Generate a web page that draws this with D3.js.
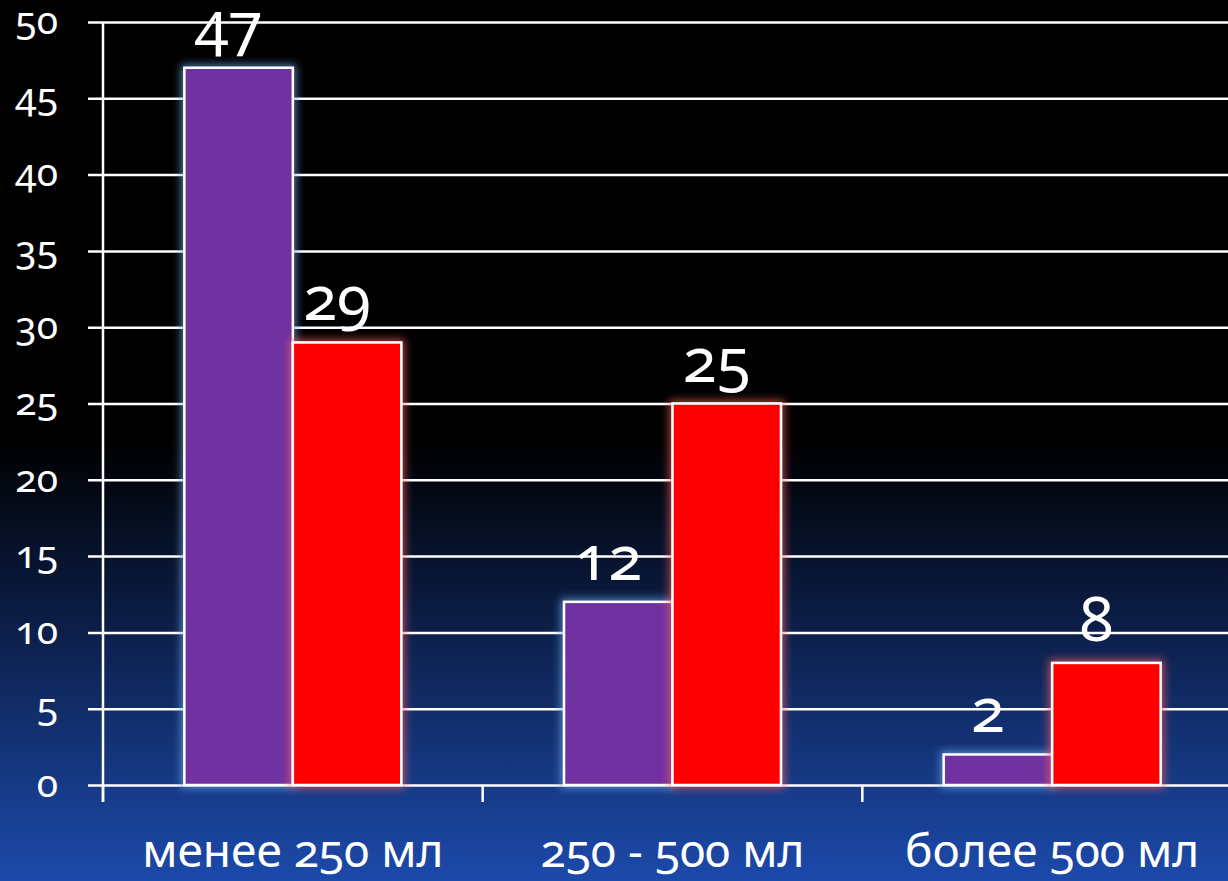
<!DOCTYPE html>
<html>
<head>
<meta charset="utf-8">
<script src="https://cdn.jsdelivr.net/npm/d3@7"></script>
<style>
  html, body { margin: 0; padding: 0; background: #000; }
  svg { display: block; }
  text { font-family: "Noto Sans", "Open Sans", sans-serif; fill: #fff; font-variant-numeric: oldstyle-nums; }
</style>
</head>
<body>
<div id="chart"></div>
<script>
const categories = ["менее 250 мл", "250 - 500 мл", "более 500 мл"];
const seriesNames = ["A", "B"];
const seriesA = [47, 12, 2];
const seriesB = [29, 25, 8];
const yTicks = [0, 5, 10, 15, 20, 25, 30, 35, 40, 45, 50];

const W = 1228, H = 881;
const margin = { top: 22, right: -14, bottom: 96, left: 103 };
const width = W - margin.left - margin.right;
const height = H - margin.top - margin.bottom;

const svg = d3.select("#chart").append("svg")
  .attr("width", W)
  .attr("height", H);

const defs = svg.append("defs");
const grad = defs.append("linearGradient")
  .attr("id", "bg").attr("x1", 0).attr("y1", 0).attr("x2", 0).attr("y2", 1);
grad.append("stop").attr("offset", "0%").attr("stop-color", "#000000");
grad.append("stop").attr("offset", "50%").attr("stop-color", "#000000");
grad.append("stop").attr("offset", "68%").attr("stop-color", "#0a1a3e");
grad.append("stop").attr("offset", "100%").attr("stop-color", "#1c4aab");

function glow(id, color) {
  const f = defs.append("filter").attr("id", id)
    .attr("x", "-30%").attr("y", "-30%").attr("width", "160%").attr("height", "160%");
  f.append("feMorphology").attr("in", "SourceAlpha").attr("operator", "dilate").attr("radius", 2).attr("result", "d");
  f.append("feGaussianBlur").attr("in", "d").attr("stdDeviation", 4).attr("result", "b");
  f.append("feFlood").attr("flood-color", color).attr("flood-opacity", 0.7);
  f.append("feComposite").attr("in2", "b").attr("operator", "in").attr("result", "g");
  const m = f.append("feMerge");
  m.append("feMergeNode").attr("in", "g");
  m.append("feMergeNode").attr("in", "SourceGraphic");
}
glow("glowA", "#6fa8e8");
glow("glowB", "#ff5a5a");

svg.append("rect").attr("width", W).attr("height", H).attr("fill", "url(#bg)");

const g = svg.append("g").attr("transform", `translate(${margin.left},${margin.top})`);

const y = d3.scaleLinear().domain([0, 50]).range([height, 0]);
const x0 = d3.scaleBand().domain(categories).range([0, width]).padding(0);
const x1 = d3.scaleBand().domain(seriesNames).range([0, x0.bandwidth()])
  .paddingInner(0).paddingOuter(0.75);

// gridlines + y ticks
const yAxis = d3.axisLeft(y).tickValues(yTicks).tickSize(-(width + 20)).tickPadding(0).tickFormat("");
const yg = g.append("g").call(yAxis);
yg.select(".domain").remove();
yg.selectAll(".tick line").attr("stroke", "#fff").attr("stroke-width", 2.5).attr("x1", -15);

// y labels
g.append("g").selectAll("text").data(yTicks).join("text")
  .attr("x", -45)
  .attr("y", d => y(d))
  .attr("dy", "0.3em")
  .attr("text-anchor", "end")
  .style("font-size", "39px")
  .text(d => d);

// y axis line
g.append("line")
  .attr("x1", 0).attr("x2", 0).attr("y1", 0).attr("y2", height + 17)
  .attr("stroke", "#fff").attr("stroke-width", 2.5);

// x ticks at band boundaries
g.append("g").selectAll("line").data(categories).join("line")
  .attr("x1", d => x0(d)).attr("x2", d => x0(d))
  .attr("y1", height).attr("y2", height + 17)
  .attr("stroke", "#fff").attr("stroke-width", 2.5);

const series = [
  { name: "A", values: seriesA, fill: "#7030a0", filter: "url(#glowA)" },
  { name: "B", values: seriesB, fill: "#ff0000", filter: "url(#glowB)" }
];

series.forEach(s => {
  g.append("g").selectAll("rect").data(categories).join("rect")
    .attr("x", (d) => x0(d) + x1(s.name))
    .attr("y", (d, i) => y(s.values[i]))
    .attr("width", x1.bandwidth())
    .attr("height", (d, i) => height - y(s.values[i]))
    .attr("fill", s.fill)
    .attr("stroke", "#fff")
    .attr("stroke-width", 2.5)
    .attr("filter", s.filter);
});

// value labels
series.forEach(s => {
  g.append("g").selectAll("text").data(categories).join("text")
    .attr("x", (d) => x0(d) + x1(s.name) + x1.bandwidth() / 2 - 10)
    .attr("y", (d, i) => y(s.values[i]) - 22)
    .attr("text-anchor", "middle")
    .style("font-size", "62px")
    .text((d, i) => s.values[i]);
});

// category labels
g.append("g").selectAll("text").data(categories).join("text")
  .attr("x", d => x0(d) + x0.bandwidth() / 2)
  .attr("y", height + 82)
  .attr("text-anchor", "middle")
  .style("font-size", "46px")
  .text(d => d);
</script>
</body>
</html>
